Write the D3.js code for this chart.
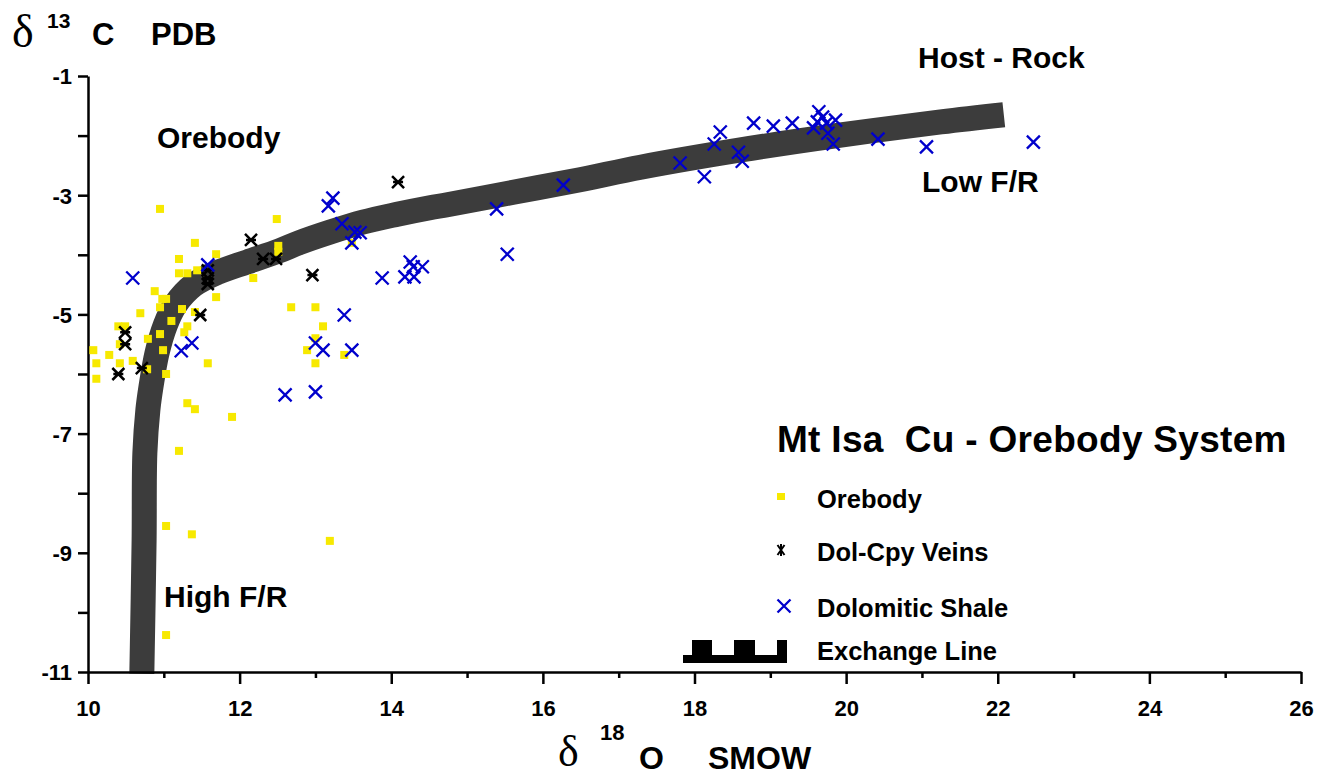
<!DOCTYPE html>
<html lang="en">
<head>
    <meta charset="UTF-8">
    <title>Mt Isa Cu - Orebody System</title>
    <script src="https://cdn.jsdelivr.net/npm/d3@7"></script>
    <style type="text/css">
        body { margin: 0; background: #fff; }
        text { font-family: "Liberation Sans", Arial, sans-serif; font-weight: bold; fill: #000; white-space: pre; }
        .axis path, .axis line { stroke: #000; stroke-width: 2.5; }
        .axis text { font-size: 22px; font-family: "Liberation Sans", Arial, sans-serif; font-weight: bold; }
    </style>
</head>
<body>
<div id="vis"></div>
<script type="text/javascript">

// d18O SMOW, d13C PDB for each group
let orebodyX = [10.95, 12.49, 11.41, 11.69, 11.20, 11.20, 11.31, 11.44, 12.51, 12.51, 12.18, 10.88, 10.98, 11.03,
    10.95, 10.69, 11.24, 11.69, 11.10, 11.31, 11.41, 10.40, 10.49, 11.27, 10.95, 10.79, 10.42, 10.07, 10.28, 10.99,
    10.11, 10.42, 10.59, 11.58, 10.78, 11.03, 10.11, 11.31, 11.41, 11.90, 11.20, 11.03, 11.37, 11.03, 13.19, 12.68,
    13.00, 13.10, 13.00, 12.89, 13.00, 13.38, 13.48];
let orebodyY = [-3.23, -3.40, -3.80, -3.99, -4.07, -4.31, -4.31, -4.26, -3.85, -3.95, -4.39, -4.61, -4.74, -4.74,
    -4.88, -4.98, -4.91, -4.71, -5.11, -5.20, -4.96, -5.20, -5.20, -5.30, -5.33, -5.41, -5.50, -5.60, -5.68, -5.60,
    -5.82, -5.82, -5.78, -5.82, -5.92, -6.00, -6.08, -6.49, -6.59, -6.72, -7.29, -8.55, -8.69, -10.38, -8.80, -4.88,
    -4.88, -5.20, -5.40, -5.60, -5.82, -5.68, -3.80];

let veinX = [10.40, 10.49, 10.49, 10.71, 11.48, 11.58, 11.58, 11.58, 12.15, 12.31, 12.48, 12.96, 14.09];
let veinY = [-6.00, -5.30, -5.50, -5.90, -5.01, -4.26, -4.39, -4.49, -3.75, -4.07, -4.07, -4.34, -2.78];

let shaleX = [10.59, 11.58, 11.23, 11.37, 13.23, 13.17, 13.35, 13.52, 13.59, 13.48, 13.88, 14.25, 14.29, 14.41,
    14.18, 14.30, 13.38, 13.00, 13.10, 13.48, 12.60, 13.00, 16.27, 15.39, 15.53, 17.81, 18.13, 18.26, 18.34, 18.58,
    18.63, 18.78, 19.04, 19.29, 19.57, 19.62, 19.64, 19.69, 19.74, 19.86, 19.76, 19.83, 20.42, 21.06, 22.47];
let shaleY = [-4.39, -4.17, -5.61, -5.48, -3.05, -3.18, -3.48, -3.62, -3.63, -3.80, -4.39, -4.12, -4.20, -4.20,
    -4.37, -4.37, -5.01, -5.48, -5.60, -5.60, -6.35, -6.30, -2.83, -3.23, -3.99, -2.46, -2.69, -2.14, -1.94, -2.28,
    -2.43, -1.79, -1.84, -1.79, -1.87, -1.77, -1.60, -1.69, -1.79, -1.74, -1.96, -2.14, -2.06, -2.19, -2.11];

// exchange line (band centre)
let exchX = [10.71, 10.74, 10.75, 10.79, 10.83, 10.91, 11.02, 11.15, 11.39, 11.72, 12.10, 12.53, 12.78, 13.19,
    13.63, 14.08, 14.51, 14.74, 15.61, 16.49, 17.29, 18.61, 19.93, 21.25, 22.08];
let exchY = [-11.03, -8.79, -7.33, -6.60, -6.22, -5.65, -5.18, -4.84, -4.51, -4.29, -4.12, -3.93, -3.80, -3.62,
    -3.45, -3.32, -3.21, -3.16, -2.95, -2.74, -2.53, -2.24, -1.99, -1.77, -1.65];

let xTicks = d3.range(10, 27);
let yTicks = d3.range(-11, 0);

let width = 1327, height = 777;
let margin = {top: 76, right: 26, bottom: 105, left: 88};

let svg = d3.select("#vis").append("svg")
    .attr("width", width)
    .attr("height", height);

let xScale = d3.scaleLinear().domain([10, 26]).range([margin.left, width - margin.right]);
let yScale = d3.scaleLinear().domain([-11, -1]).range([height - margin.bottom, margin.top]);

let zip = (xs, ys) => xs.map((x, i) => ({x: x, y: ys[i]}));

// exchange band
let line = d3.line()
    .x(d => xScale(d.x))
    .y(d => yScale(d.y))
    .curve(d3.curveCatmullRom.alpha(0.5));

svg.append("path")
    .datum(zip(exchX, exchY))
    .attr("d", line)
    .attr("fill", "none")
    .attr("stroke", "#3c3c3c")
    .attr("stroke-width", 25)
    .attr("stroke-linecap", "butt")
    .attr("stroke-linejoin", "round");

// axes
let yAxis = svg.append("g")
    .attr("class", "axis")
    .attr("transform", "translate(" + margin.left + ",0)")
    .call(d3.axisLeft(yScale).tickValues(yTicks).tickSize(10).tickSizeOuter(0)
        .tickFormat(d => (d % 2 !== 0) ? d : ""));
yAxis.selectAll("text").attr("x", -16).attr("dy", "0.36em");

let xAxis = svg.append("g")
    .attr("class", "axis")
    .attr("transform", "translate(0," + (height - margin.bottom) + ")")
    .call(d3.axisBottom(xScale).tickValues(xTicks).tickSize(12).tickSizeOuter(0)
        .tickFormat(d => (d % 2 === 0) ? d : ""));
xAxis.selectAll(".tick line").attr("y2", d => (d % 2 === 0) ? 12 : 6);
xAxis.selectAll("text").attr("y", 28);

// markers
let xMark = "M-6.5,-6.5L6.5,6.5M-6.5,6.5L6.5,-6.5";
let starMark = "M-6,-6L6,6M-6,6L6,-6M-5,0L5,0";

svg.append("g").selectAll("rect")
    .data(zip(orebodyX, orebodyY))
    .join("rect")
    .attr("x", d => xScale(d.x) - 4)
    .attr("y", d => yScale(d.y) - 4)
    .attr("width", 8)
    .attr("height", 8)
    .attr("fill", "#f7e900");

svg.append("g").selectAll("path")
    .data(zip(veinX, veinY))
    .join("path")
    .attr("transform", d => "translate(" + xScale(d.x) + "," + yScale(d.y) + ")")
    .attr("d", starMark)
    .attr("stroke", "#000")
    .attr("stroke-width", 2.5)
    .attr("fill", "none");

svg.append("g").selectAll("path")
    .data(zip(shaleX, shaleY))
    .join("path")
    .attr("transform", d => "translate(" + xScale(d.x) + "," + yScale(d.y) + ")")
    .attr("d", xMark)
    .attr("stroke", "#0000cc")
    .attr("stroke-width", 2.3)
    .attr("fill", "none");

// axis titles
svg.append("text").attr("x", 12).attr("y", 47)
    .style("font-family", "'Liberation Serif', 'Times New Roman', serif")
    .style("font-weight", "normal").style("font-size", "46px").text("δ");
svg.append("text").attr("x", 47).attr("y", 28).style("font-size", "21px").text("13");
svg.append("text").attr("x", 92).attr("y", 45).style("font-size", "31px").text("C");
svg.append("text").attr("x", 151).attr("y", 45).style("font-size", "31px").text("PDB");

svg.append("text").attr("x", 558).attr("y", 766)
    .style("font-family", "'Liberation Serif', 'Times New Roman', serif")
    .style("font-weight", "normal").style("font-size", "44px").text("δ");
svg.append("text").attr("x", 600).attr("y", 740).style("font-size", "22px").text("18");
svg.append("text").attr("x", 639).attr("y", 769).style("font-size", "32px").text("O");
svg.append("text").attr("x", 708).attr("y", 769).style("font-size", "32px").text("SMOW");

// annotations
let notes = [
    {t: "Host - Rock", x: 918, y: 68},
    {t: "Orebody", x: 157, y: 148},
    {t: "Low F/R", x: 922, y: 192},
    {t: "High F/R", x: 164, y: 607}
];
svg.selectAll(".note").data(notes).join("text")
    .attr("class", "note")
    .attr("x", d => d.x).attr("y", d => d.y)
    .style("font-size", "30px")
    .text(d => d.t);

// legend
svg.append("text").attr("x", 777).attr("y", 452).style("font-size", "37px")
    .style("letter-spacing", "0.3px").text("Mt Isa  Cu - Orebody System");

let legItems = ["Orebody", "Dol-Cpy Veins", "Dolomitic Shale", "Exchange Line"];
let legY = [508, 561, 617, 660];
svg.selectAll(".leg").data(legItems).join("text")
    .attr("class", "leg")
    .attr("x", 817).attr("y", (d, i) => legY[i])
    .style("font-size", "25.5px")
    .text(d => d);

svg.append("rect").attr("x", 777).attr("y", 493).attr("width", 8).attr("height", 7).attr("fill", "#f7e900");
svg.append("path").attr("transform", "translate(781,550)")
    .attr("d", "M-3.5,-5L3.5,5M-3.5,5L3.5,-5M0,-6L0,6")
    .attr("stroke", "#000").attr("stroke-width", 2).attr("fill", "none");
svg.append("path").attr("transform", "translate(784,606)")
    .attr("d", xMark).attr("stroke", "#0000cc").attr("stroke-width", 2.3).attr("fill", "none");

// exchange line legend symbol
let sym = svg.append("g").attr("fill", "#000");
sym.append("rect").attr("x", 683).attr("y", 655).attr("width", 104).attr("height", 8);
sym.append("rect").attr("x", 692).attr("y", 640).attr("width", 20).attr("height", 23);
sym.append("rect").attr("x", 734).attr("y", 640).attr("width", 21).attr("height", 23);
sym.append("rect").attr("x", 777).attr("y", 640).attr("width", 10).attr("height", 23);

</script>
</body>
</html>
